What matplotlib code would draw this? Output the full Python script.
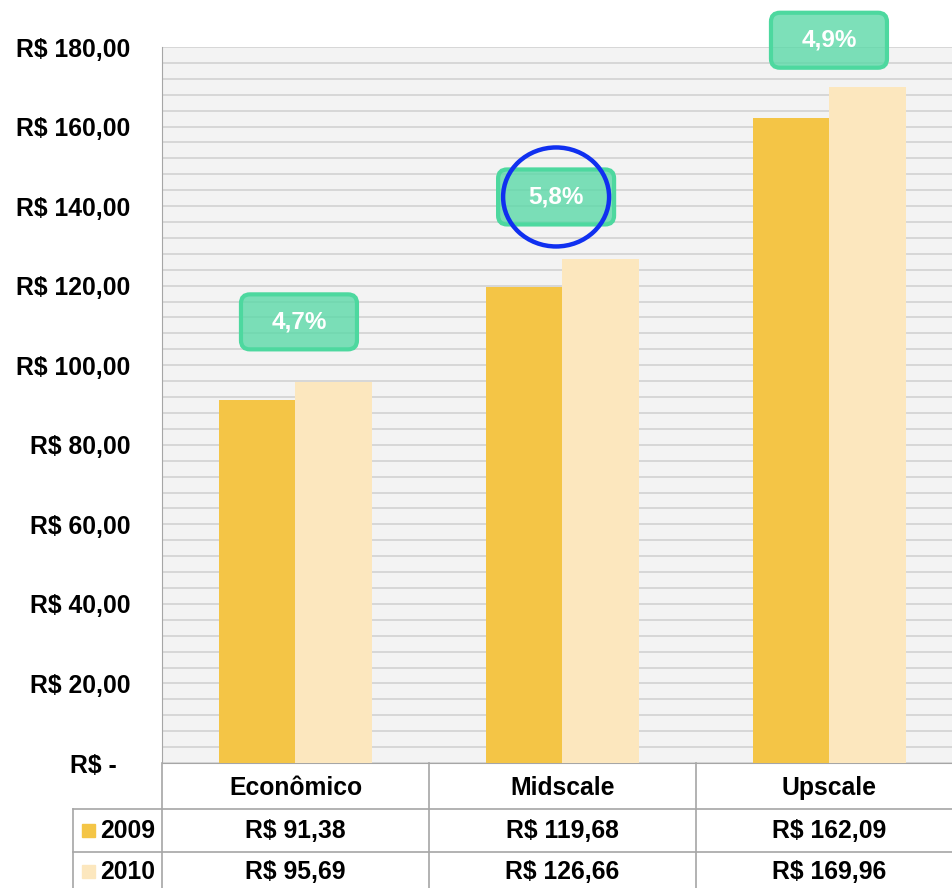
import matplotlib.pyplot as plt
from matplotlib.lines import Line2D
from matplotlib.patches import FancyBboxPatch, Ellipse, Rectangle
from matplotlib.transforms import blended_transform_factory
import numpy as np

plt.rcParams['font.family'] = ['Liberation Sans', 'DejaVu Sans']

categories = ["Econômico", "Midscale", "Upscale"]
years = ["2009", "2010"]
values_2009 = [91.38, 119.68, 162.09]
values_2010 = [95.69, 126.66, 169.96]
growth = ["4,7%", "5,8%", "4,9%"]
growth_label_x = [0.013, 0.976, 1.998]
growth_label_y = [110.9, 142.3, 181.7]
highlight = 1  # circled label

C2009 = "#F4C546"
C2010 = "#FCE7BE"
GRID = "#D2D2D2"
EDGE = "#A6A6A6"
FS = 17.8

W, H = 953, 888
DPI = 100
fig = plt.figure(figsize=(W / DPI, H / DPI), dpi=DPI)


def fx(x):
    return x / W


def fy(y):
    return 1 - y / H


ax = fig.add_axes([fx(162), fy(763), 801 / W, 716 / H])
ax.set_facecolor("#F3F3F3")

x = np.arange(len(categories))
bw = 0.288
ax.bar(x - bw / 2, values_2009, bw, color=C2009, zorder=3)
ax.bar(x + bw / 2, values_2010, bw, color=C2010, zorder=3)

ax.set_xlim(-0.5, len(categories) - 0.5)
ax.set_ylim(0, 180)
ax.set_yticks(np.arange(0, 181, 20))
ax.set_yticks(np.arange(0, 181, 4), minor=True)
ax.set_yticklabels(["R$ -  "] + [f"R$ {v:.2f}".replace(".", ",") for v in range(20, 181, 20)],
                   fontsize=FS, fontweight="bold")
ax.tick_params(axis="y", which="both", length=0, pad=23)
ax.set_xticks([])
ax.grid(axis="y", which="both", color=GRID, lw=1.2, zorder=1)
for s in ["top", "right"]:
    ax.spines[s].set_visible(False)
ax.spines["left"].set_color(EDGE)
ax.spines["bottom"].set_color(EDGE)

# growth labels
inv = fig.dpi_scale_trans
for i, (g, gx, gy) in enumerate(zip(growth, growth_label_x, growth_label_y)):
    cx, cy = ax.transData.transform((gx, gy)) / DPI
    bwid, bhgt = 1.16, 0.55
    fig.add_artist(FancyBboxPatch((cx - bwid / 2, cy - bhgt / 2), bwid, bhgt,
                                  boxstyle="round,pad=0,rounding_size=0.09",
                                  fc=(0.36, 0.85, 0.66, 0.8), ec="#4DD89F", lw=3,
                                  transform=inv, zorder=5))
    fig.text(cx * DPI / W, cy * DPI / H, g, ha="center", va="center",
             color="white", fontsize=17.5, fontweight="bold", zorder=6)
    if i == highlight:
        fig.add_artist(Ellipse((cx, cy), 1.06, 0.99, transform=inv, fill=False,
                               ec="#1030F0", lw=3.2, zorder=7))

# data table below the axes
tr = blended_transform_factory(ax.transData, fig.transFigure)
col_edges = np.arange(len(categories) + 1) - 0.5
row_lines = [809, 852, 895]
for xe in col_edges:
    fig.add_artist(Line2D([xe, xe], [fy(763), fy(895)], transform=tr, color=EDGE, lw=1.2))
fig.add_artist(Line2D([fx(73), fx(73)], [fy(809), fy(895)], color=EDGE, lw=1.2))
for yl in row_lines:
    fig.add_artist(Line2D([fx(73), fx(970)], [fy(yl), fy(yl)], color=EDGE, lw=1.2))

for i, c in enumerate(categories):
    fig.text(x[i], fy(788), c, transform=tr, ha="center", va="center",
             fontsize=FS, fontweight="bold")

row_y = [831, 872]
for vals, ry, yr, col in zip([values_2009, values_2010], row_y, years, [C2009, C2010]):
    for i, v in enumerate(vals):
        fig.text(x[i], fy(ry), f"R$ {v:.2f}".replace(".", ","), transform=tr,
                 ha="center", va="center", fontsize=FS, fontweight="bold")
    fig.add_artist(Rectangle((fx(82), fy(ry + 6)), 13 / W, 13 / H, color=col,
                             transform=fig.transFigure))
    fig.text(fx(100), fy(ry), yr, ha="left", va="center", fontsize=FS, fontweight="bold")

fig.savefig("out.png", dpi=DPI)
